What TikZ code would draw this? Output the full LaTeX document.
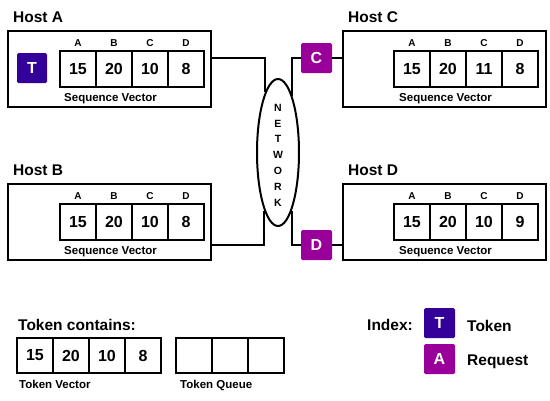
\documentclass[tikz,border=0pt]{standalone}
\usepackage{fontspec}
\setmainfont{Liberation Sans}
\usetikzlibrary{shapes.geometric}
\definecolor{tokcol}{HTML}{330099}
\definecolor{reqcol}{HTML}{990099}
\begin{document}
\begin{tikzpicture}[x=1pt,y=-1pt,
 box/.style={draw,line width=2pt},
 hostbox/.style={box,minimum width=203pt,minimum height=76pt,inner sep=0pt,outer sep=0pt},
 cell/.style={box,minimum width=36pt,minimum height=36pt,inner sep=0pt,outer sep=0pt,font=\bfseries\fontsize{16}{16}\selectfont},
 tcell/.style={cell,minimum height=35pt},
 col/.style={font=\bfseries\fontsize{10}{10}\selectfont,inner sep=0pt},
 seqlbl/.style={font=\bfseries\fontsize{11.5}{11.5}\selectfont,inner sep=0pt,anchor=base west},
 title/.style={font=\bfseries\fontsize{15.5}{15.5}\selectfont,inner sep=0pt,anchor=base west},
 tok/.style={fill=tokcol,rounded corners=1.5pt,minimum width=30pt,minimum height=30pt,inner sep=0pt,outer sep=0pt,text=white,font=\bfseries\fontsize{16}{16}\selectfont},
 req/.style={tok,fill=reqcol,minimum width=31pt},
 wire/.style={line width=2pt,line join=miter}
]
\useasboundingbox (0,0) rectangle (550,400);

% Host A
\node[title] (tA) at (13,22) {Host A};
\node[hostbox] (hA) at (109.5,69) {};
\node[tok] (tkA) at (32,68) {T};
\foreach \v [count=\i] in {15,20,10,8} \node[cell] (a\i) at ({42+36*\i},69) {\v};
\foreach \l [count=\i] in {A,B,C,D} \node[col] (al\i) at ({42+36*\i},43.5) {\l};
\node[seqlbl] (sA) at (64,101) {Sequence Vector};

% Host C
\node[title] (tC) at (348,22) {Host C};
\node[hostbox] (hC) at (444.5,69) {};
\foreach \v [count=\i] in {15,20,11,8} \node[cell] (c\i) at ({376+36*\i},69) {\v};
\foreach \l [count=\i] in {A,B,C,D} \node[col] (cl\i) at ({376+36*\i},43.5) {\l};
\node[seqlbl] (sC) at (399,101) {Sequence Vector};

% Host B
\node[title] (tB) at (13,175) {Host B};
\node[hostbox] (hB) at (109.5,222) {};
\foreach \v [count=\i] in {15,20,10,8} \node[cell] (b\i) at ({42+36*\i},222) {\v};
\foreach \l [count=\i] in {A,B,C,D} \node[col] (bl\i) at ({42+36*\i},196.5) {\l};
\node[seqlbl] (sB) at (64,254) {Sequence Vector};

% Host D
\node[title] (tD) at (348,175) {Host D};
\node[hostbox] (hD) at (444.5,222) {};
\foreach \v [count=\i] in {15,20,10,9} \node[cell] (d\i) at ({376+36*\i},222) {\v};
\foreach \l [count=\i] in {A,B,C,D} \node[col] (dl\i) at ({376+36*\i},196.5) {\l};
\node[seqlbl] (sD) at (399,254) {Sequence Vector};

% Network
\node[draw,ellipse,line width=2pt,minimum width=42pt,minimum height=147pt,inner sep=0pt] (net) at (278,152.5) {};
\node[align=center,inner sep=0pt,font=\bfseries\fontsize{10.5}{15.8}\selectfont] (netl) at (278,155) {N\\E\\T\\W\\O\\R\\K};

% request squares
\node[req] (cq) at (316.5,58) {C};
\node[req] (dq) at (316.5,245) {D};

% connectors
\draw[wire] (hA.east |- cq) -| (net.102.2);
\draw[wire] (cq.west) -| (net.76.3);
\draw[wire] (cq.east) -- (hC.west |- cq);
\draw[wire] (hB.east |- dq) -| (net.257.8);
\draw[wire] (dq.west) -| (net.283.7);
\draw[wire] (dq.east) -- (hD.west |- dq);

% Token contains
\node[title] (tc) at (18,330) {Token contains:};
\foreach \v [count=\i] in {15,20,10,8} \node[tcell] (tv\i) at ({-1+36*\i},355.5) {\v};
\foreach \i in {1,2,3} \node[tcell] (tq\i) at ({158+36*\i},355.5) {};
\node[seqlbl] (tvl) at (19,388) {Token Vector};
\node[seqlbl] (tql) at (180,388) {Token Queue};

% Index
\node[title] (ix) at (367,330.5) {Index:};
\node[tok,minimum width=31pt] (ixT) at (439.5,323) {T};
\node[req] (ixA) at (439.5,359) {A};
\node[title] (ixTl) at (467,331.5) {Token};
\node[title] (ixAl) at (467,365.5) {Request};
\end{tikzpicture}
\end{document}
